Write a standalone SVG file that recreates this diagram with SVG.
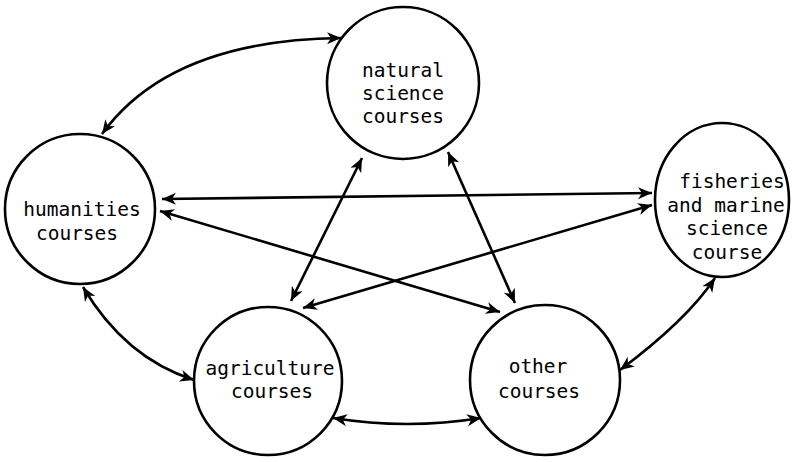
<svg xmlns="http://www.w3.org/2000/svg" width="798" height="462" viewBox="0 0 798 462">
  <style>
    .node { fill: #ffffff; stroke: #000000; stroke-width: 2.6; }
    .label { font-family: "DejaVu Sans Mono", "Liberation Mono", monospace; font-size: 19.5px; fill: #000000; text-anchor: middle; }
    .link { fill: none; stroke: #000000; stroke-width: 2.6; marker-start: url(#head); marker-end: url(#head); }
  </style>
  <defs>
    <marker id="head" markerUnits="userSpaceOnUse" markerWidth="16" markerHeight="14" refX="14" refY="6" orient="auto-start-reverse">
      <path d="M0,0 L14,6 L0,12 L4,6 z" fill="#000000"/>
    </marker>
  </defs>
  <rect width="798" height="462" fill="#ffffff"/>

  <g id="connectors">
    <path class="link" d="M102,134 Q170,40 341,38"/>
    <path class="link" d="M162,199 L652,193"/>
    <path class="link" d="M160,211 L500,312"/>
    <path class="link" d="M303,308 L652,205"/>
    <path class="link" d="M362,158 L291,301"/>
    <path class="link" d="M448,152 L515,303"/>
    <path class="link" d="M83,287 Q125,358 194,380"/>
    <path class="link" d="M333,418 Q407,430 481,418"/>
    <path class="link" d="M715,278 Q687,320 620,370"/>
  </g>

  <g id="natural-science">
    <circle class="node" cx="403" cy="83" r="76"/>
    <text class="label" x="403" y="77">natural</text>
    <text class="label" x="403" y="100">science</text>
    <text class="label" x="403" y="123">courses</text>
  </g>

  <g id="humanities">
    <circle class="node" cx="80" cy="209" r="75"/>
    <text class="label" x="82" y="216">humanities</text>
    <text class="label" x="77" y="240">courses</text>
  </g>

  <g id="fisheries">
    <ellipse class="node" cx="722" cy="200" rx="67" ry="77"/>
    <text class="label" x="732" y="188">fisheries</text>
    <text class="label" x="726" y="212">and marine</text>
    <text class="label" x="727" y="235">science</text>
    <text class="label" x="727" y="259">course</text>
  </g>

  <g id="agriculture">
    <circle class="node" cx="268" cy="381" r="74"/>
    <text class="label" x="270" y="375">agriculture</text>
    <text class="label" x="272" y="398">courses</text>
  </g>

  <g id="other">
    <circle class="node" cx="545" cy="380" r="75"/>
    <text class="label" x="538" y="373">other</text>
    <text class="label" x="539" y="398">courses</text>
  </g>
</svg>
